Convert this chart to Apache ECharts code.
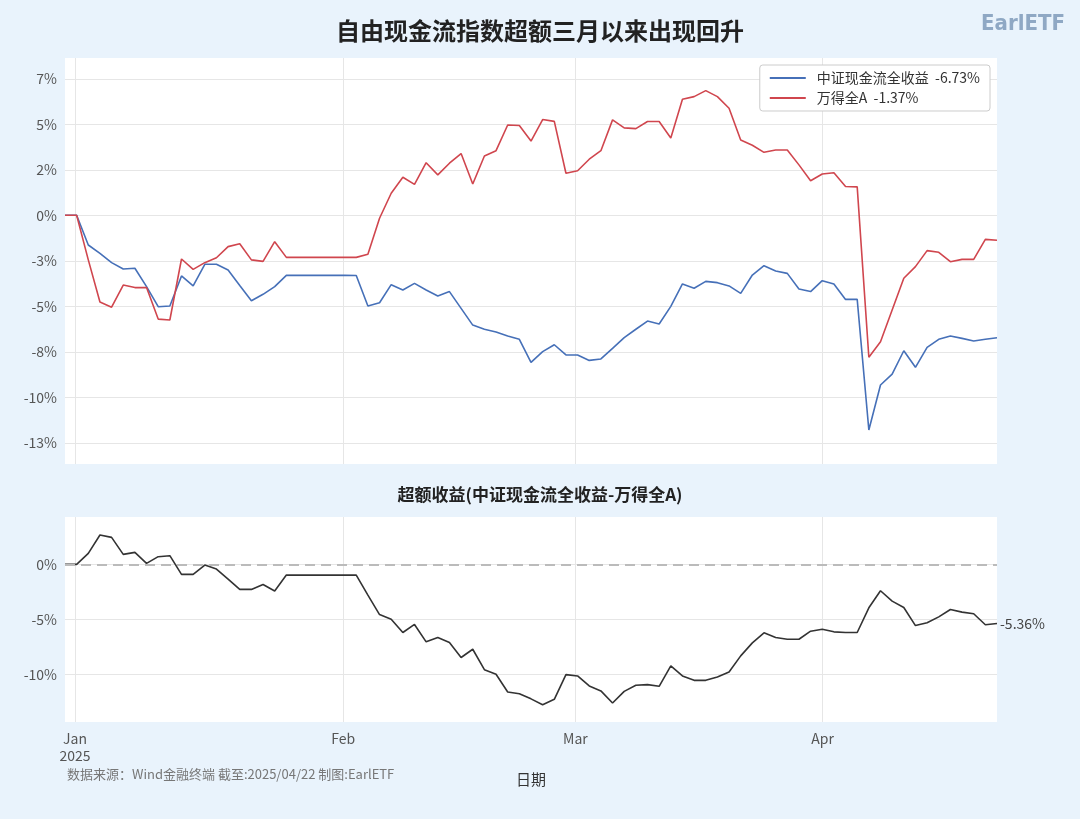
<!DOCTYPE html>
<html><head><meta charset="utf-8">
<script src="https://cdn.jsdelivr.net/npm/echarts@6/dist/echarts.min.js"></script>
<style>html,body{margin:0;padding:0;background:#e9f3fc}#c{width:1080px;height:819px}</style>
</head><body><div id="c"></div>
<script>
const cashflow = [0,0,-1.63,-2.09,-2.60,-2.95,-2.91,-3.92,-5.02,-4.98,-3.33,-3.88,-2.69,-2.69,-3.00,-3.85,-4.69,-4.34,-3.92,-3.30,-3.30,-3.30,-3.30,-3.30,-3.30,-3.31,-4.98,-4.80,-3.81,-4.10,-3.74,-4.10,-4.43,-4.19,-5.11,-6.03,-6.26,-6.41,-6.63,-6.81,-8.08,-7.49,-7.11,-7.67,-7.67,-7.97,-7.89,-7.31,-6.72,-6.26,-5.81,-5.97,-5.0,-3.77,-4.01,-3.63,-3.70,-3.88,-4.29,-3.28,-2.77,-3.06,-3.19,-4.05,-4.19,-3.59,-3.77,-4.62,-4.62,-11.79,-9.32,-8.72,-7.44,-8.35,-7.25,-6.81,-6.63,-6.76,-6.90,-6.81,-6.73];
const windA = [0,0,-2.45,-4.76,-5.05,-3.83,-3.97,-3.97,-5.70,-5.75,-2.40,-2.97,-2.60,-2.33,-1.72,-1.56,-2.45,-2.53,-1.45,-2.31,-2.31,-2.31,-2.31,-2.31,-2.31,-2.31,-2.14,-0.16,1.21,2.09,1.70,2.89,2.22,2.86,3.39,1.72,3.26,3.55,4.96,4.93,4.08,5.26,5.16,2.31,2.45,3.08,3.55,5.24,4.80,4.76,5.15,5.15,4.25,6.37,6.52,6.85,6.52,5.88,4.14,3.85,3.46,3.59,3.59,2.77,1.90,2.27,2.34,1.58,1.56,-7.80,-6.94,-5.20,-3.46,-2.82,-1.94,-2.03,-2.55,-2.42,-2.42,-1.32,-1.37];
const excess = [0,0,1.0,2.67,2.45,0.91,1.09,0.09,0.70,0.79,-0.91,-0.91,-0.06,-0.42,-1.33,-2.27,-2.27,-1.82,-2.42,-0.97,-0.97,-0.97,-0.97,-0.97,-0.97,-0.97,-2.79,-4.55,-4.97,-6.18,-5.45,-7.03,-6.64,-7.09,-8.45,-7.70,-9.55,-9.97,-11.58,-11.73,-12.2,-12.73,-12.24,-10.0,-10.12,-11.03,-11.48,-12.58,-11.52,-10.97,-10.91,-11.06,-9.21,-10.12,-10.52,-10.52,-10.21,-9.76,-8.30,-7.12,-6.21,-6.64,-6.79,-6.79,-6.06,-5.88,-6.12,-6.18,-6.18,-3.94,-2.39,-3.33,-3.91,-5.55,-5.30,-4.76,-4.09,-4.33,-4.48,-5.48,-5.36];
const monthPos = [0.86, 23.88, 43.81, 65.03];
const monthLabels = ['Jan\n2025', 'Feb', 'Mar', 'Apr'];
const topTicks = [-12.5,-10,-7.5,-5,-2.5,0,2.5,5,7.5];
const bottomTicks = [-10,-5,0];
const names = ['中证现金流全收益', '万得全A'];

const pts = a => a.map((v,i)=>[i,v]);
const last = a => a[a.length-1];
const chart = echarts.init(document.getElementById('c'));
const font = 'Noto Sans CJK SC';
const xCommon = {type:'value', min:0, max:cashflow.length-1,
  axisLine:{show:false}, axisTick:{show:false, customValues:monthPos},
  splitLine:{show:true, lineStyle:{color:'#e6e6e6'}}};
chart.setOption({
  backgroundColor:'#e9f3fc',
  textStyle:{fontFamily:font},
  title:[
    {text:'自由现金流指数超额三月以来出现回升', left:'center', top:14, textStyle:{fontSize:24, fontWeight:'bold', color:'#222'}},
    {text:'超额收益(中证现金流全收益-万得全A)', left:'center', top:481, textStyle:{fontSize:17, fontWeight:'bold', color:'#222'}},
    {text:'EarlETF', right:10, top:8, textStyle:{fontSize:22, color:'#8fa8c4', fontWeight:'bold', fontFamily:'DejaVu Sans Condensed'}},
    {text:'数据来源：Wind金融终端 截至:2025/04/22 制图:EarlETF', left:62, top:763, textStyle:{fontSize:13, color:'#777', fontWeight:'normal'}}
  ],
  legend:{data:names, top:65, right:90, orient:'vertical', backgroundColor:'#fff', borderColor:'#ccc', borderWidth:1, borderRadius:3,
    padding:[6,10], itemGap:6, itemWidth:36, itemHeight:2, icon:'rect',
    textStyle:{fontSize:14, color:'#333', padding:[0,0,0,6]},
    formatter: n => n===names[0] ? n+'  '+last(cashflow).toFixed(2)+'%' : n+'  '+last(windA).toFixed(2)+'%'},
  grid:[{left:65, right:83, top:58, height:406, show:true, backgroundColor:'#fff', borderWidth:0},
        {left:65, right:83, top:517, height:205, show:true, backgroundColor:'#fff', borderWidth:0}],
  xAxis:[
    Object.assign({gridIndex:0, axisLabel:{show:false, customValues:monthPos}}, xCommon),
    Object.assign({gridIndex:1, name:'日期', nameLocation:'middle', nameGap:50, nameTextStyle:{fontSize:15, color:'#333'},
      axisLabel:{show:true, customValues:monthPos, color:'#555', fontSize:14, lineHeight:17,
        formatter:v=>{let k=0;monthPos.forEach((p,i)=>{if(Math.abs(p-v)<Math.abs(monthPos[k]-v))k=i;});return monthLabels[k];}}}, xCommon)
  ],
  yAxis:[
    {type:'value', gridIndex:0, min:-13.66, max:8.64, axisLine:{show:false}, axisTick:{show:false, customValues:topTicks},
     axisLabel:{customValues:topTicks, color:'#555', fontSize:14, formatter:v=>Math.floor(v)+'%'},
     splitLine:{lineStyle:{color:'#e6e6e6'}}},
    {type:'value', gridIndex:1, min:-14.3, max:4.3, axisLine:{show:false}, axisTick:{show:false, customValues:bottomTicks},
     axisLabel:{customValues:bottomTicks, color:'#555', fontSize:14, formatter:v=>Math.round(v)+'%'},
     splitLine:{lineStyle:{color:'#e6e6e6'}}}
  ],
  series:[
    {name:names[0], type:'line', xAxisIndex:0, yAxisIndex:0, data:pts(cashflow), showSymbol:false, lineStyle:{color:'#4670b8', width:1.6}, itemStyle:{color:'#4670b8'}},
    {name:names[1], type:'line', xAxisIndex:0, yAxisIndex:0, data:pts(windA), showSymbol:false, lineStyle:{color:'#d0464e', width:1.6}, itemStyle:{color:'#d0464e'}},
    {name:'超额', type:'line', xAxisIndex:1, yAxisIndex:1, data:pts(excess), showSymbol:false, lineStyle:{color:'#333', width:1.6},
     endLabel:{show:true, formatter:p=>p.value[1].toFixed(2)+'%', color:'#444', fontSize:14, distance:3},
     markLine:{silent:true, symbol:'none', label:{show:false}, lineStyle:{color:'#bbb', type:[10,6], width:2}, data:[{yAxis:0}]}}
  ]
});
</script></body></html>
